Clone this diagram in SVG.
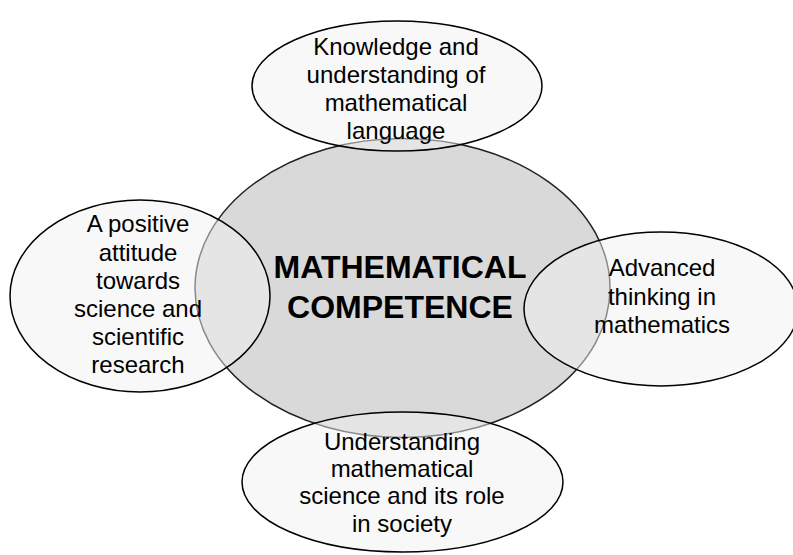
<svg xmlns="http://www.w3.org/2000/svg" width="793" height="555" viewBox="0 0 793 555">
<style>
.outer{fill:#f2f2f2;fill-opacity:0.5;stroke:#000;stroke-width:1.5}
.center{fill:#d9d9d9;stroke:#222;stroke-width:1.5}
.t{font-family:"Liberation Sans",Arial,sans-serif;font-size:24px;fill:#000;text-anchor:middle}
.tb{font-family:"Liberation Sans",Arial,sans-serif;font-size:32px;font-weight:bold;fill:#000;text-anchor:middle}
</style>
<rect width="793" height="555" fill="#fff"/>
<g id="center-node">
<ellipse class="center" cx="402.5" cy="288" rx="207.5" ry="149.5"/>
<text class="tb" x="400" y="278">MATHEMATICAL</text>
<text class="tb" x="400" y="318">COMPETENCE</text>
</g>
<g id="connectors"/>
<g id="top-node">
<ellipse class="outer" cx="397" cy="86" rx="145" ry="65"/>
<text class="t" x="396" y="55">Knowledge and</text>
<text class="t" x="396" y="83">understanding of</text>
<text class="t" x="396" y="111">mathematical</text>
<text class="t" x="396" y="139">language</text>
</g>
<g id="left-node">
<ellipse class="outer" cx="140" cy="296" rx="130" ry="96"/>
<text class="t" x="138" y="232">A positive</text>
<text class="t" x="138" y="261">attitude</text>
<text class="t" x="138" y="289">towards</text>
<text class="t" x="138" y="317">science and</text>
<text class="t" x="138" y="345">scientific</text>
<text class="t" x="138" y="373">research</text>
</g>
<g id="right-node">
<ellipse class="outer" cx="661" cy="309" rx="137" ry="77"/>
<text class="t" x="662" y="276">Advanced</text>
<text class="t" x="662" y="305">thinking in</text>
<text class="t" x="662" y="333">mathematics</text>
</g>
<g id="bottom-node">
<ellipse class="outer" cx="402.5" cy="482" rx="160.5" ry="70"/>
<text class="t" x="402" y="450">Understanding</text>
<text class="t" x="402" y="477">mathematical</text>
<text class="t" x="402" y="504">science and its role</text>
<text class="t" x="402" y="532">in society</text>
</g>
</svg>
